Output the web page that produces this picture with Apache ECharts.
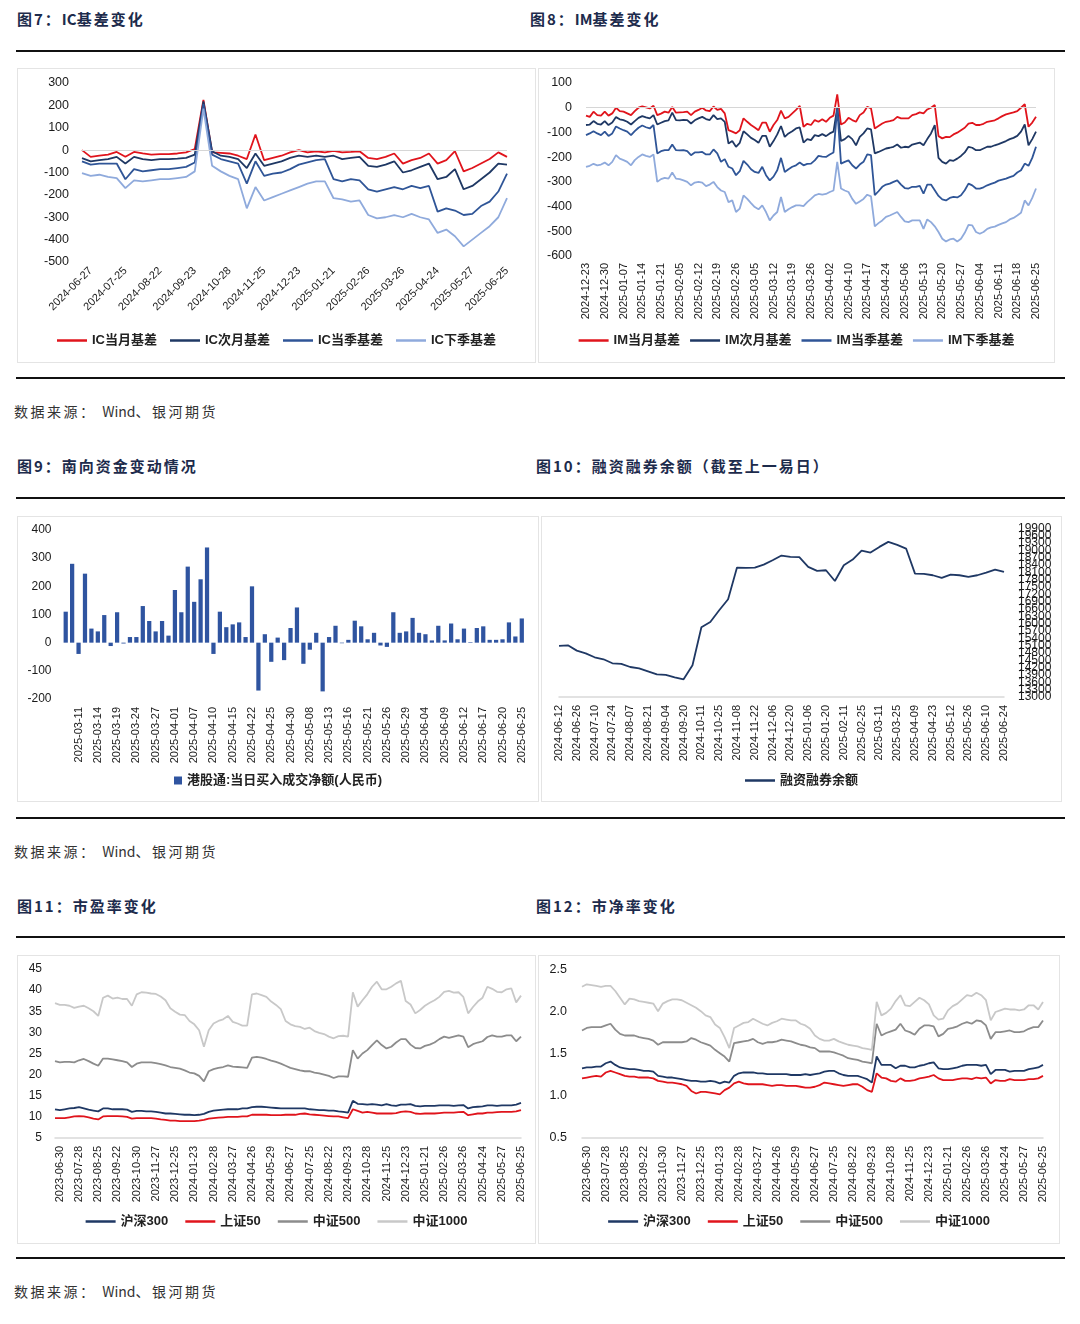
<!DOCTYPE html>
<html><head><meta charset="utf-8">
<script src="https://cdn.jsdelivr.net/npm/echarts@6.0.0/dist/echarts.min.js"></script>
<style>
html,body{margin:0;padding:0;background:#fff}
body{width:1080px;height:1324px;position:relative;overflow:hidden;font-family:"Noto Sans CJK SC","Liberation Sans",sans-serif}
.t{position:absolute;font-weight:700;font-size:15px;line-height:20px;color:#1d2b4c;letter-spacing:2px;white-space:nowrap}
.s{position:absolute;left:14px;font-size:14px;line-height:20px;color:#333;letter-spacing:2.5px;white-space:nowrap}
.l{letter-spacing:0}
.h{position:absolute;left:16px;width:1049px;height:2px;background:#111}
.c{position:absolute;border:1px solid #e4e4e4;box-sizing:border-box}
</style></head><body>
<div class="t" style="left:17px;top:9px">图7：<span class="l">IC</span>基差变化</div>
<div class="t" style="left:530px;top:9px">图8：<span class="l">IM</span>基差变化</div>
<div class="h" style="top:50px"></div>
<div class="c" id="c7" style="left:17px;top:68px;width:519px;height:295px"></div>
<div class="c" id="c8" style="left:538px;top:68px;width:517px;height:295px"></div>
<div class="h" style="top:377px"></div>
<div class="s" style="top:401px">数据来源： <span class="l">Wind</span>、银河期货</div>

<div class="t" style="left:17px;top:456px">图9：南向资金变动情况</div>
<div class="t" style="left:536px;top:456px">图10：融资融券余额（截至上一易日）</div>
<div class="h" style="top:497px"></div>
<div class="c" id="c9" style="left:17px;top:516px;width:522px;height:286px"></div>
<div class="c" id="c10" style="left:541px;top:516px;width:521px;height:286px"></div>
<div class="h" style="top:817px"></div>
<div class="s" style="top:841px">数据来源： <span class="l">Wind</span>、银河期货</div>

<div class="t" style="left:17px;top:896px">图11：市盈率变化</div>
<div class="t" style="left:536px;top:896px">图12：市净率变化</div>
<div class="h" style="top:936px"></div>
<div class="c" id="c11" style="left:17px;top:955px;width:519px;height:289px"></div>
<div class="c" id="c12" style="left:538px;top:955px;width:522px;height:289px"></div>
<div class="h" style="top:1257px"></div>
<div class="s" style="top:1281px">数据来源： <span class="l">Wind</span>、银河期货</div>

<script>
// ---------- data: valuation charts (weekly samples) ----------
const valDates = ['2023-06-21','2023-06-30','2023-07-07','2023-07-14','2023-07-21','2023-07-28','2023-08-04','2023-08-11','2023-08-18','2023-08-25','2023-09-01','2023-09-08','2023-09-15','2023-09-22','2023-10-09','2023-10-16','2023-10-23','2023-10-30','2023-11-06','2023-11-13','2023-11-20','2023-11-27','2023-12-04','2023-12-11','2023-12-18','2023-12-25','2024-01-02','2024-01-09','2024-01-16','2024-01-23','2024-01-30','2024-02-06','2024-02-20','2024-02-28','2024-03-06','2024-03-13','2024-03-20','2024-03-27','2024-04-03','2024-04-12','2024-04-19','2024-04-26','2024-05-08','2024-05-15','2024-05-22','2024-05-29','2024-06-05','2024-06-13','2024-06-20','2024-06-27','2024-07-04','2024-07-11','2024-07-18','2024-07-25','2024-08-01','2024-08-08','2024-08-15','2024-08-22','2024-08-29','2024-09-05','2024-09-12','2024-09-23','2024-09-30','2024-10-14','2024-10-21','2024-10-28','2024-11-04','2024-11-11','2024-11-18','2024-11-25','2024-12-02','2024-12-09','2024-12-16','2024-12-23','2024-12-30','2025-01-07','2025-01-14','2025-01-21','2025-02-05','2025-02-12','2025-02-19','2025-02-26','2025-03-05','2025-03-12','2025-03-19','2025-03-26','2025-04-02','2025-04-10','2025-04-17','2025-04-24','2025-05-06','2025-05-13','2025-05-20','2025-05-27','2025-06-04','2025-06-11','2025-06-18','2025-06-25'];

const pe300 = [11.8,11.6,11.8,12.0,12.1,12.3,12.0,11.7,11.5,11.3, 12.0,12.0,11.8,11.8,11.8,11.7,11.2,11.4,11.4,11.3, 11.3,11.2,11.0,10.8,10.8,10.7,10.6,10.5,10.5,10.4, 10.5,10.7,11.2,11.5,11.6,11.7,11.8,11.8,11.8,12.0, 12.0,12.3,12.4,12.4,12.3,12.2,12.1,12.0,12.0,12.0, 12.0,12.0,12.0,11.8,11.7,11.6,11.6,11.5,11.5,11.3, 11.2,11.0,13.8,13.1,13.0,12.9,13.0,12.9,12.7,13.0, 12.7,12.6,12.9,12.9,13.0,12.6,12.5,12.6,12.6,12.6, 12.7,12.7,12.7,12.6,12.7,12.8,12.0,12.3,12.4,12.5, 12.7,12.7,12.6,12.7,12.7,12.7,12.9,13.3];
const pe50 = [9.7,9.7,9.7,9.9,10.1,10.2,10.1,9.9,9.6,9.4, 10.1,10.2,10.2,10.2,10.1,10.0,9.6,9.7,9.7,9.7, 9.7,9.6,9.4,9.3,9.1,9.1,9.0,9.0,9.0,9.0, 9.1,9.3,9.6,9.7,9.8,9.9,10.0,10.0,10.0,10.1, 10.1,10.5,10.5,10.5,10.5,10.4,10.4,10.4,10.5,10.5, 10.5,10.7,10.8,10.6,10.5,10.4,10.3,10.2,10.1,10.1, 9.9,9.7,11.8,11.4,11.0,11.2,11.0,10.8,10.8,10.8, 10.8,10.9,11.2,11.3,11.2,10.8,10.7,10.8,10.8,10.8, 10.9,11.0,11.0,11.0,11.1,11.2,10.4,10.6,10.8,10.8, 11.0,11.0,11.1,11.2,11.2,11.2,11.3,11.6];
const pe500 = [23.2,22.9,23.0,23.0,22.9,23.4,23.7,23.2,22.6,22.1, 23.8,23.8,23.6,23.4,23.2,22.9,21.8,22.6,22.9,22.9, 22.9,22.7,22.5,22.2,21.8,21.6,21.4,21.0,20.5,20.3, 19.7,18.4,20.8,21.3,21.6,21.8,22.2,21.9,21.8,21.7, 21.6,24.0,24.2,24.0,23.7,23.3,23.0,22.6,22.1,21.6, 21.3,21.0,20.8,20.8,20.5,20.3,20.0,19.7,19.2,19.6, 19.6,19.5,25.8,23.8,25.0,25.8,27.0,28.1,27.0,26.2, 26.6,27.6,28.4,28.4,27.1,26.3,26.2,26.8,27.1,27.6, 28.4,29.0,28.7,29.0,29.3,29.0,26.5,27.2,27.6,27.9, 28.9,29.3,29.0,29.0,29.3,29.3,27.9,29.0];
const pe1000 = [36.9,36.5,36.5,36.3,35.8,36.1,36.3,35.7,35.0,33.9, 38.2,38.7,38.0,38.2,37.9,37.9,36.3,39.0,39.5,39.4, 39.2,39.1,38.5,37.6,35.7,34.9,34.2,34.1,32.7,31.9, 30.5,26.6,30.5,32.1,32.7,33.1,33.9,32.5,32.1,31.6, 31.6,39.0,39.2,38.8,38.4,37.3,36.5,35.5,32.7,31.9, 31.5,31.3,30.8,31.1,30.3,29.9,29.6,29.0,28.6,29.1, 29.2,29.0,39.5,36.1,37.6,39.0,40.8,42.0,40.2,40.2, 40.8,41.6,42.2,37.4,36.6,34.5,35.3,36.3,37.0,37.6, 38.4,39.6,39.8,39.4,39.5,38.4,34.5,36.0,37.3,38.2, 40.8,40.3,39.6,39.5,40.2,40.4,37.1,38.7];

const pb300 = [1.33,1.34,1.34,1.35,1.35,1.39,1.41,1.37,1.34,1.33, 1.32,1.32,1.31,1.30,1.30,1.29,1.24,1.23,1.22,1.22, 1.21,1.20,1.19,1.18,1.18,1.17,1.17,1.18,1.17,1.15, 1.17,1.16,1.24,1.27,1.28,1.28,1.28,1.27,1.27,1.26, 1.26,1.26,1.26,1.26,1.25,1.25,1.25,1.26,1.25,1.26, 1.27,1.29,1.30,1.30,1.27,1.25,1.24,1.24,1.24,1.22, 1.20,1.16,1.47,1.37,1.37,1.37,1.33,1.36,1.36,1.34, 1.34,1.36,1.37,1.39,1.40,1.33,1.32,1.32,1.33,1.34, 1.36,1.37,1.37,1.37,1.36,1.37,1.26,1.31,1.31,1.31, 1.29,1.30,1.30,1.30,1.32,1.33,1.34,1.37];
const pb50 = [1.21,1.22,1.23,1.24,1.23,1.28,1.30,1.28,1.26,1.24, 1.23,1.23,1.22,1.22,1.22,1.21,1.18,1.17,1.16,1.16, 1.15,1.14,1.12,1.06,1.03,1.05,1.05,1.04,1.03,1.02, 1.07,1.10,1.15,1.17,1.15,1.14,1.14,1.14,1.14,1.13, 1.12,1.13,1.13,1.12,1.12,1.12,1.11,1.10,1.10,1.11, 1.13,1.16,1.15,1.14,1.13,1.12,1.13,1.14,1.14,1.11, 1.07,1.05,1.27,1.22,1.21,1.18,1.17,1.21,1.18,1.18, 1.19,1.21,1.22,1.23,1.25,1.21,1.19,1.19,1.19,1.20, 1.21,1.21,1.20,1.22,1.21,1.22,1.15,1.19,1.18,1.18, 1.20,1.19,1.19,1.19,1.20,1.20,1.21,1.24];
const pb500 = [1.78,1.81,1.82,1.82,1.82,1.84,1.86,1.79,1.74,1.72, 1.72,1.72,1.70,1.69,1.68,1.66,1.61,1.64,1.64,1.64, 1.64,1.64,1.65,1.69,1.67,1.64,1.62,1.60,1.55,1.51, 1.47,1.41,1.63,1.64,1.65,1.66,1.68,1.64,1.62,1.64, 1.64,1.65,1.67,1.66,1.65,1.63,1.61,1.60,1.58,1.57, 1.53,1.53,1.53,1.52,1.50,1.48,1.45,1.44,1.43,1.41, 1.40,1.39,1.86,1.72,1.75,1.77,1.79,1.86,1.78,1.76, 1.73,1.80,1.84,1.84,1.83,1.71,1.74,1.80,1.81,1.83, 1.86,1.88,1.86,1.90,1.89,1.84,1.68,1.76,1.76,1.77, 1.78,1.76,1.76,1.77,1.80,1.82,1.82,1.90];
const pb1000 = [2.30,2.33,2.32,2.31,2.30,2.31,2.31,2.25,2.17,2.09, 2.16,2.15,2.13,2.12,2.11,2.10,2.01,2.10,2.13,2.15, 2.15,2.14,2.11,2.08,2.05,2.01,1.96,1.94,1.85,1.81, 1.70,1.57,1.81,1.84,1.87,1.88,1.92,1.89,1.86,1.84, 1.87,1.89,1.92,1.91,1.90,1.90,1.86,1.84,1.80,1.72, 1.68,1.66,1.66,1.68,1.65,1.63,1.61,1.60,1.59,1.57, 1.56,1.55,2.12,1.96,1.99,2.04,2.13,2.20,2.08,2.07, 2.12,2.17,2.14,2.09,1.96,1.91,1.92,2.02,2.07,2.10, 2.15,2.20,2.19,2.23,2.20,2.14,1.90,2.00,2.02,2.04, 2.03,2.03,2.02,2.03,2.08,2.08,2.03,2.12];

// ---------- data: IC basis (weekly samples from 2024-06-20) ----------
const icStartDate = '2024-06-20';
const icCurrent = [0,-30,-25,-20,-8,-30,-8,-15,-20,-18,-18,-15,-10,5,225,-10,-12,-15,-25,-40,70,-45,-35,-25,-10,0,-10,-5,-10,-3,-10,-8,-5,-35,-40,-30,-15,-60,-45,-35,-15,-60,-45,-5,-95,-80,-60,-40,-10,-30];
const icNext = [-36,-50,-45,-40,-30,-60,-30,-40,-45,-40,-40,-38,-35,-20,218,-5,-25,-30,-40,-80,-15,-70,-60,-50,-35,-25,-30,-25,-30,-25,-40,-35,-30,-70,-75,-65,-50,-100,-90,-75,-60,-130,-120,-85,-175,-160,-130,-100,-60,-65];
const icSeason = [-50,-65,-60,-60,-60,-130,-85,-95,-90,-85,-85,-80,-75,-55,205,-20,-40,-50,-60,-150,-50,-115,-105,-100,-85,-65,-55,-45,-40,-130,-140,-130,-135,-175,-185,-175,-165,-175,-160,-170,-160,-275,-260,-270,-290,-285,-250,-230,-185,-105];
const icNextSeason = [-103,-115,-110,-120,-125,-170,-135,-140,-135,-130,-130,-125,-120,-95,185,-70,-95,-115,-130,-260,-165,-225,-210,-195,-180,-165,-150,-140,-140,-215,-220,-230,-225,-290,-305,-300,-290,-300,-285,-300,-310,-370,-355,-385,-430,-400,-370,-340,-300,-215];

// ---------- data: IM basis (daily) ----------
const imDates = ['2024-12-23','2024-12-24','2024-12-25','2024-12-26','2024-12-27','2024-12-30','2024-12-31','2025-01-02','2025-01-03','2025-01-06','2025-01-07','2025-01-08','2025-01-09','2025-01-10','2025-01-13','2025-01-14','2025-01-15','2025-01-16','2025-01-17','2025-01-20','2025-01-21','2025-01-22','2025-01-23','2025-01-24','2025-01-27','2025-02-05','2025-02-06','2025-02-07','2025-02-10','2025-02-11','2025-02-12','2025-02-13','2025-02-14','2025-02-17','2025-02-18','2025-02-19','2025-02-20','2025-02-21','2025-02-24','2025-02-25','2025-02-26','2025-02-27','2025-02-28','2025-03-03','2025-03-04','2025-03-05','2025-03-06','2025-03-07','2025-03-10','2025-03-11','2025-03-12','2025-03-13','2025-03-14','2025-03-17','2025-03-18','2025-03-19','2025-03-20','2025-03-21','2025-03-24','2025-03-25','2025-03-26','2025-03-27','2025-03-28','2025-03-31','2025-04-01','2025-04-02','2025-04-03','2025-04-07','2025-04-08','2025-04-09','2025-04-10','2025-04-11','2025-04-14','2025-04-15','2025-04-16','2025-04-17','2025-04-18','2025-04-21','2025-04-22','2025-04-23','2025-04-24','2025-04-25','2025-04-28','2025-04-29','2025-04-30','2025-05-06','2025-05-07','2025-05-08','2025-05-09','2025-05-12','2025-05-13','2025-05-14','2025-05-15','2025-05-16','2025-05-19','2025-05-20','2025-05-21','2025-05-22','2025-05-23','2025-05-26','2025-05-27','2025-05-28','2025-05-29','2025-05-30','2025-06-03','2025-06-04','2025-06-05','2025-06-06','2025-06-09','2025-06-10','2025-06-11','2025-06-12','2025-06-13','2025-06-16','2025-06-17','2025-06-18','2025-06-19','2025-06-20','2025-06-23','2025-06-24','2025-06-25'];
const imCurrent = [-32,-37,-16,-30,-32, -16,-32,-23,0,-14, -16,-23,-30,-14,0, 5,1,-3,8,-30, -24,-16,-20,3,-20, -19,-18,-16,-30,-16, -9,0,-11,-14,5, -9,-5,-23,-91,-97, -104,-91,-43,-57,-70, -80,-91,-60,-60,-97, -70,-50,-12,-43,-37, -23,-9,7,-77,-65, -70,-50,-57,-47,-57, -41,-32,54,-68,-60, -41,-50,-57,-30,-19, 4,-3,-84,-74,-64, -57,-54,-50,-37,-43, -43,-43,-30,-26,-19, -23,-7,0,11,-115, -124,-118,-119,-108,-101, -91,-81,-64,-61,-70, -70,-65,-57,-54,-51, -43,-34,-27,-23,-19, -14,0,14,-77,-60, -37];
const imNext = [-70,-68,-54,-65,-68, -54,-70,-60,-38,-47, -50,-57,-68,-54,-41, -34,-39,-43,-30,-68, -61,-54,-51,-20,-50, -51,-49,-50,-64,-51, -43,-37,-46,-50,-30, -46,-43,-57,-145,-135, -158,-142,-95,-108,-122, -131,-142,-114,-114,-158, -135,-108,-74,-118,-104, -95,-84,-80,-141,-127, -131,-111,-115,-107,-115, -104,-97,0,-135,-127, -114,-127,-152,-118,-104, -84,-88,-185,-179,-172, -165,-162,-158,-149,-162, -158,-160,-149,-145,-141, -152,-127,-104,-70,-203, -219,-226,-212,-215,-206, -195,-181,-158,-162,-172, -172,-165,-158,-158,-152, -147,-141,-135,-127,-122, -114,-97,-68,-152,-127, -97];
const imSeason = [-111,-104,-95,-104,-111, -97,-114,-104,-76,-84, -91,-97,-111,-95,-81, -72,-79,-84,-70,-185, -176,-172,-172,-149,-172, -173,-172,-176,-192,-181, -181,-179,-189,-189,-169, -185,-219,-208,-239,-246, -273,-257,-215,-230,-249, -260,-264,-239,-273,-294, -279,-253,-203,-260,-249, -239,-233,-222,-233,-227, -226,-213,-195,-198,-199, -189,-181,-3,-226,-219, -213,-233,-246,-230,-219, -189,-192,-354,-338,-320, -311,-307,-300,-294,-311, -325,-327,-320,-320,-316, -348,-311,-311,-334,-357, -371,-375,-365,-361,-363, -354,-334,-307,-314,-327, -327,-322,-314,-308,-303, -295,-291,-287,-281,-276, -262,-253,-226,-235,-203, -158];
const imNextSeason = [-239,-235,-227,-233,-230, -222,-233,-219,-192,-206, -212,-219,-233,-212,-199, -189,-195,-199,-189,-300, -289,-284,-287,-262,-287, -289,-294,-300,-314,-303, -300,-303,-317,-311,-300, -321,-335,-341,-382,-375, -422,-408,-355,-369,-386, -402,-411,-395,-422,-456, -436,-422,-361,-422,-411, -402,-395,-395,-398,-382, -369,-355,-349,-352,-349, -341,-335,-219,-327,-335, -341,-369,-389,-379,-369, -352,-359,-480,-467,-456, -442,-436,-429,-422,-442, -460,-463,-456,-456,-456, -490,-452,-463,-480,-503, -530,-541,-533,-530,-541, -530,-506,-474,-476,-503, -510,-503,-490,-484,-481, -474,-468,-463,-452,-446, -436,-425,-375,-395,-365, -327];

// ---------- data: southbound flows (daily, 亿元) ----------
const sbDates = ['2025-03-07','2025-03-10','2025-03-11','2025-03-12','2025-03-13','2025-03-14','2025-03-17','2025-03-18','2025-03-19','2025-03-20','2025-03-21','2025-03-24','2025-03-25','2025-03-26','2025-03-27','2025-03-28','2025-03-31','2025-04-01','2025-04-02','2025-04-03','2025-04-07','2025-04-08','2025-04-09','2025-04-10','2025-04-11','2025-04-14','2025-04-15','2025-04-16','2025-04-17','2025-04-22','2025-04-23','2025-04-24','2025-04-25','2025-04-28','2025-04-29','2025-04-30','2025-05-06','2025-05-07','2025-05-08','2025-05-09','2025-05-12','2025-05-13','2025-05-14','2025-05-15','2025-05-16','2025-05-19','2025-05-20','2025-05-21','2025-05-22','2025-05-23','2025-05-26','2025-05-27','2025-05-28','2025-05-29','2025-05-30','2025-06-03','2025-06-04','2025-06-05','2025-06-06','2025-06-09','2025-06-10','2025-06-11','2025-06-12','2025-06-13','2025-06-16','2025-06-17','2025-06-18','2025-06-19','2025-06-20','2025-06-23','2025-06-24','2025-06-25'];
const sbNet = [110,280,-40,245,50,40,98,-12,108,-3, 20,20,130,77,40,77,25,187,108,270, 145,225,338,-40,110,55,65,72,20,200, -170,30,-68,18,-62,52,125,-75,-25,35, -173,20,60,-2,10,78,58,12,35,-10, -15,108,35,40,88,35,30,8,60,8, 68,12,50,2,52,58,10,10,12,72, 22,86];

// ---------- data: margin balance (weekly, 亿元) ----------
const mgDates = ['2024-06-12','2024-06-19','2024-06-26','2024-07-03','2024-07-10','2024-07-17','2024-07-24','2024-07-31','2024-08-07','2024-08-14','2024-08-21','2024-08-28','2024-09-04','2024-09-11','2024-09-20','2024-09-27','2024-10-11','2024-10-18','2024-10-25','2024-11-01','2024-11-08','2024-11-15','2024-11-22','2024-11-29','2024-12-06','2024-12-13','2024-12-20','2024-12-27','2025-01-06','2025-01-13','2025-01-20','2025-01-27','2025-02-11','2025-02-18','2025-02-25','2025-03-04','2025-03-11','2025-03-18','2025-03-25','2025-04-01','2025-04-09','2025-04-16','2025-04-23','2025-04-30','2025-05-12','2025-05-19','2025-05-26','2025-06-03','2025-06-10','2025-06-17','2025-06-24'];
const mgBalance = [15090,15117,14899,14789,14626,14544,14380,14360,14229,14175, 14052,13929,13902,13806,13724,14300,15855,16074,16552,17002, 18300,18290,18300,18423,18600,18792,18737,18724,18327,18163, 18191,17750,18396,18628,18997,18915,19147,19352,19229,19079, 18054,18041,17986,17877,18013,17986,17918,17986,18095,18218, 18122];
const mgTicks = [13000,13300,13600,13900,14200,14500,14800,15100,15400,15700,16000,16300,16600,16900,17200,17500,17800,18100,18400,18700,19000,19300,19600,19900];

// ---------- styling ----------
const FONT = '"Liberation Sans", Arial, "Noto Sans CJK SC", sans-serif';
const COL = {red:'#E0141C', navy:'#1F3864', blue:'#2F5597', lblue:'#8FAADC', g5:'#8C8C8C', g10:'#C8C8C8', bar:'#2F54A0'};
const TXT = '#1a1a1a';

function line(name, data, color, extra) {
  return Object.assign({name:name, type:'line', data:data, symbol:'none', showSymbol:false,
    lineStyle:{color:color, width:1.8}, itemStyle:{color:color}, animation:false}, extra || {});
}
const zeroLine = {silent:true, symbol:'none', label:{show:false}, animation:false,
  lineStyle:{color:'#d6d6d6', width:1, type:'solid'}, data:[{yAxis:0}]};
function legend(top, gap, sq) {
  return {top:top, left:'center', padding:0, itemGap:gap, icon:'rect',
    itemWidth: sq ? 8 : 30, itemHeight: sq ? 8 : 2.5,
    textStyle:{fontFamily:FONT, fontSize:13, fontWeight:'bold', color:'#222'}};
}
function yVal(min, max, interval, margin, fs, extra) {
  return Object.assign({type:'value', min:min, max:max, interval:interval,
    axisLine:{show:false}, axisTick:{show:false}, splitLine:{show:false},
    axisLabel:{margin:margin, fontSize:fs, color:TXT, fontFamily:FONT, hideOverlap:false,
      showMinLabel:true, showMaxLabel:true}}, extra || {});
}
function xCat(data, interval, rotate, margin, showLine, gap) {
  return {type:'category', data:data, boundaryGap:!!gap,
    axisLine:{show:!!showLine, lineStyle:{color:'#d9d9d9', width:1.5}}, axisTick:{show:false},
    axisLabel:{interval:interval, rotate:rotate, margin:margin, fontSize:11, color:TXT, fontFamily:FONT}};
}
function mk(id, opt) {
  const ch = echarts.init(document.getElementById(id), null, {renderer:'canvas'});
  opt.animation = false;
  ch.setOption(opt);
}

// Chart 7: IC basis
const icDates = valDates.slice(valDates.indexOf(icStartDate));
mk('c7', {
  grid:{left:64, right:28, top:14, bottom:100, outerBoundsMode:'none'},
  legend: legend(265, 13),
  xAxis: xCat(icDates, function(i){return (i-1)%4===0;}, 45, 7, false),
  yAxis: yVal(-500, 300, 100, 13, 12.5),
  series:[
    line('IC当月基差', icCurrent, COL.red, {markLine: zeroLine}),
    line('IC次月基差', icNext, COL.navy),
    line('IC当季基差', icSeason, COL.blue),
    line('IC下季基差', icNextSeason, COL.lblue)
  ]
});

// Chart 8: IM basis
mk('c8', {
  grid:{left:47, right:18, top:14, bottom:106, outerBoundsMode:'none'},
  legend: legend(265, 10),
  xAxis: xCat(imDates, 4, 90, 7, false),
  yAxis: yVal(-600, 100, 100, 14, 12.5),
  series:[
    line('IM当月基差', imCurrent, COL.red, {markLine: zeroLine}),
    line('IM次月基差', imNext, COL.navy),
    line('IM当季基差', imSeason, COL.blue),
    line('IM下季基差', imNextSeason, COL.lblue)
  ]
});

// Chart 9: southbound flows
mk('c9', {
  grid:{left:44.5, right:13, top:13, bottom:102, outerBoundsMode:'none'},
  legend: legend(257, 10, true),
  xAxis: xCat(sbDates, function(i){return (i-2)%3===0;}, 90, 8, false, true),
  yAxis: yVal(-200, 400, 100, 11, 12),
  series:[{name:'港股通:当日买入成交净额(人民币)', type:'bar', data:sbNet, barWidth:'66%',
    itemStyle:{color:COL.bar}, animation:false}]
});

// Chart 10: margin balance. The 24 crowded right-axis labels overlap as in the reference;
// they are spread over three coincident right axes so ECharts does not drop any of them.
function mgAxis(k) {
  return yVal(13000, 19900, 300, 14, 12, {position:'right', offset:0,
    axisLabel:{margin:14, fontSize:12, color:TXT, fontFamily:FONT, hideOverlap:false,
      showMinLabel:true, showMaxLabel:true,
      customValues: mgTicks.filter(function(v, i){ return i % 3 === k; }),
      formatter:function(v){return String(v);}}});
}
mk('c10', {
  grid:{left:17, right:57, top:11.5, bottom:104, outerBoundsMode:'none'},
  legend: legend(257, 10),
  xAxis: xCat(mgDates, 1, 90, 8, true),
  yAxis: [mgAxis(0), mgAxis(1), mgAxis(2)],
  series:[line('融资融券余额', mgBalance, COL.navy, {yAxisIndex:0})]
});

// Chart 11: PE
mk('c11', {
  grid:{left:37, right:14, top:13, bottom:105, outerBoundsMode:'none'},
  legend: legend(259, 17),
  xAxis: xCat(valDates, function(i){return (i-1)%4===0;}, 90, 8, true),
  yAxis: yVal(5, 45, 5, 13, 12),
  series:[
    line('沪深300', pe300, COL.navy),
    line('上证50', pe50, COL.red),
    line('中证500', pe500, COL.g5),
    line('中证1000', pe1000, COL.g10)
  ]
});

// Chart 12: PB
mk('c12', {
  grid:{left:43, right:16, top:14, bottom:105, outerBoundsMode:'none'},
  legend: legend(259, 17),
  xAxis: xCat(valDates, function(i){return (i-1)%4===0;}, 90, 8, true),
  yAxis: yVal(0.5, 2.5, 0.5, 15, 12.5, {axisLabel:{margin:15, fontSize:12.5, color:TXT, fontFamily:FONT,
    showMinLabel:true, showMaxLabel:true, formatter:function(v){return v.toFixed(1);}}}),
  series:[
    line('沪深300', pb300, COL.navy),
    line('上证50', pb50, COL.red),
    line('中证500', pb500, COL.g5),
    line('中证1000', pb1000, COL.g10)
  ]
});
</script>
</body></html>
